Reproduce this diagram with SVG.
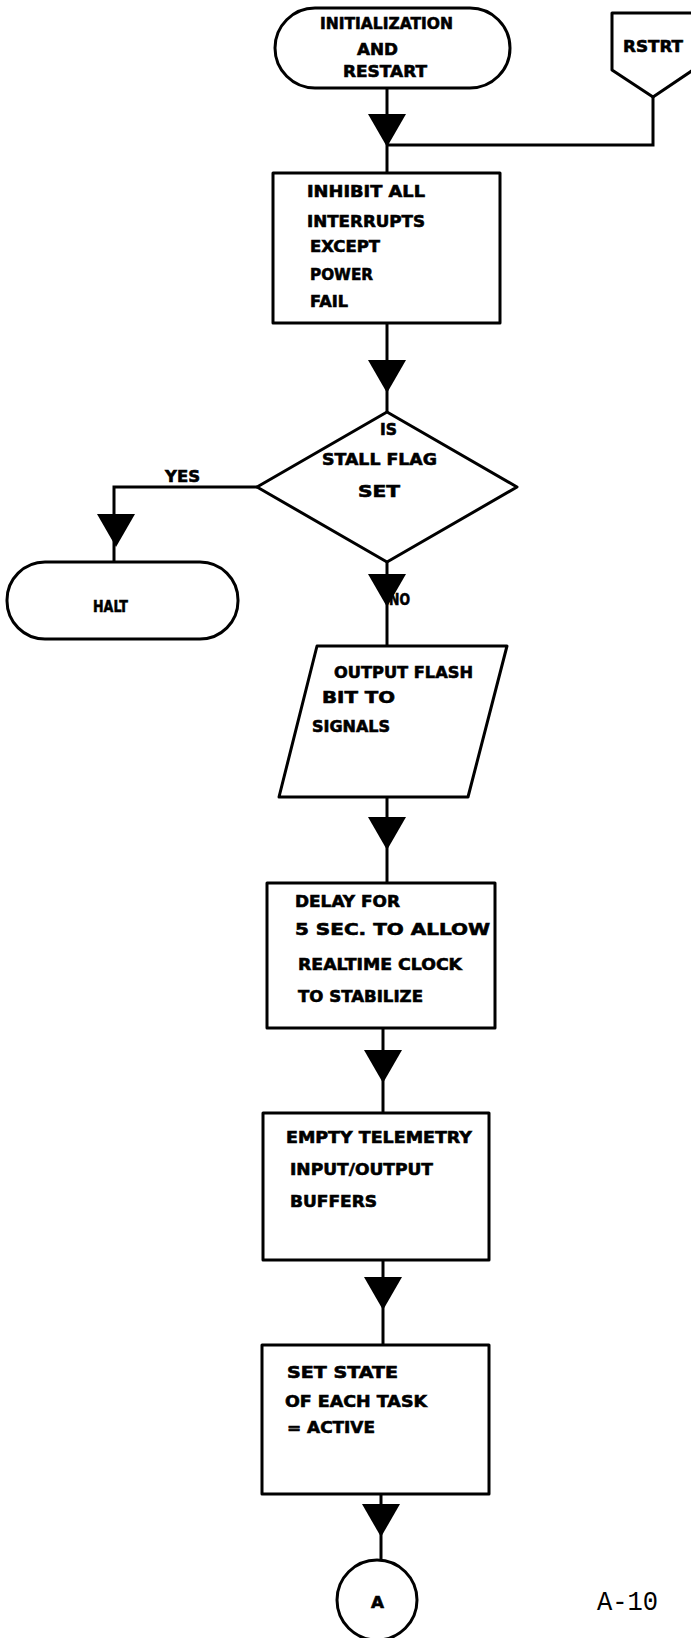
<svg xmlns="http://www.w3.org/2000/svg" width="691" height="1638" viewBox="0 0 691 1638">
  <style>
    .shape { fill: #fff; stroke: #000; stroke-width: 3; stroke-linejoin: round; }
    .wire { fill: none; stroke: #000; stroke-width: 3; stroke-linejoin: miter; }
    .lbl { font-family: "DejaVu Sans", "Liberation Sans", sans-serif; font-weight: bold; font-size: 16px; fill: #000; stroke: #000; stroke-width: 0.6; }
    .page { font-family: "Liberation Mono", "DejaVu Sans Mono", monospace; font-size: 27px; fill: #000; }
  </style>
  <defs>
    <!-- flow-direction arrowhead, apex at origin -->
    <path id="tri" d="M -19 -33 L 19 -33 L 0 0 Z" fill="#000"/>
  </defs>

  <rect width="691" height="1638" fill="#fff"/>

  <g id="connectors">
    <path class="wire" d="M 387 88 V 173"/>
    <path class="wire" d="M 653 97 V 145 H 387"/>
    <path class="wire" d="M 387 323 V 412"/>
    <path class="wire" d="M 257 487 H 114 V 562"/>
    <path class="wire" d="M 387 562 V 646"/>
    <path class="wire" d="M 387 797 V 883"/>
    <path class="wire" d="M 383 1028 V 1113"/>
    <path class="wire" d="M 383 1260 V 1345"/>
    <path class="wire" d="M 381 1494 V 1560"/>
    <use href="#tri" x="387" y="147"/>
    <use href="#tri" x="387" y="393"/>
    <use href="#tri" x="116" y="547"/>
    <use href="#tri" x="387" y="607"/>
    <use href="#tri" x="387" y="850"/>
    <use href="#tri" x="383" y="1083"/>
    <use href="#tri" x="383" y="1310"/>
    <use href="#tri" x="381" y="1537"/>
    <text class="lbl" x="165" y="482" textLength="35" lengthAdjust="spacingAndGlyphs">YES</text>
    <text class="lbl" x="389" y="605" textLength="21" lengthAdjust="spacingAndGlyphs">NO</text>
  </g>

  <g id="start">
    <rect class="shape" x="275" y="8" width="235" height="80" rx="40" ry="40"/>
    <text class="lbl" x="320" y="29" textLength="133" lengthAdjust="spacingAndGlyphs">INITIALIZATION</text>
    <text class="lbl" x="357" y="55" textLength="41" lengthAdjust="spacingAndGlyphs">AND</text>
    <text class="lbl" x="343" y="77" textLength="84" lengthAdjust="spacingAndGlyphs">RESTART</text>
  </g>

  <g id="rstrt">
    <path class="shape" d="M 612 13 H 693 V 70 L 653 97 L 612 70 Z"/>
    <text class="lbl" x="623" y="52" textLength="60" lengthAdjust="spacingAndGlyphs">RSTRT</text>
  </g>

  <g id="inhibit">
    <rect class="shape" x="273" y="173" width="227" height="150"/>
    <text class="lbl" x="307" y="197" textLength="118" lengthAdjust="spacingAndGlyphs">INHIBIT  ALL</text>
    <text class="lbl" x="307" y="227" textLength="118" lengthAdjust="spacingAndGlyphs">INTERRUPTS</text>
    <text class="lbl" x="310" y="252" textLength="70" lengthAdjust="spacingAndGlyphs">EXCEPT</text>
    <text class="lbl" x="310" y="280" textLength="63" lengthAdjust="spacingAndGlyphs">POWER</text>
    <text class="lbl" x="310" y="307" textLength="38" lengthAdjust="spacingAndGlyphs">FAIL</text>
  </g>

  <g id="stall-check">
    <path class="shape" d="M 387 412 L 517 487 L 387 562 L 257 487 Z"/>
    <text class="lbl" x="380" y="435" textLength="17" lengthAdjust="spacingAndGlyphs">IS</text>
    <text class="lbl" x="322" y="465" textLength="115" lengthAdjust="spacingAndGlyphs">STALL  FLAG</text>
    <text class="lbl" x="358" y="497" textLength="42" lengthAdjust="spacingAndGlyphs">SET</text>
  </g>

  <g id="halt">
    <rect class="shape" x="7" y="562" width="231" height="77" rx="38" ry="38"/>
    <text class="lbl" x="93" y="612" textLength="35" lengthAdjust="spacingAndGlyphs">HALT</text>
  </g>

  <g id="flash-output">
    <path class="shape" d="M 317 646 H 507 L 468 797 H 279 Z"/>
    <text class="lbl" x="334" y="678" textLength="139" lengthAdjust="spacingAndGlyphs">OUTPUT FLASH</text>
    <text class="lbl" x="322" y="703" textLength="73" lengthAdjust="spacingAndGlyphs">BIT  TO</text>
    <text class="lbl" x="312" y="732" textLength="78" lengthAdjust="spacingAndGlyphs">SIGNALS</text>
  </g>

  <g id="delay">
    <rect class="shape" x="267" y="883" width="228" height="145"/>
    <text class="lbl" x="295" y="907" textLength="105" lengthAdjust="spacingAndGlyphs">DELAY  FOR</text>
    <text class="lbl" x="295" y="935" textLength="195" lengthAdjust="spacingAndGlyphs">5  SEC. TO  ALLOW</text>
    <text class="lbl" x="298" y="970" textLength="164" lengthAdjust="spacingAndGlyphs">REALTIME  CLOCK</text>
    <text class="lbl" x="298" y="1002" textLength="125" lengthAdjust="spacingAndGlyphs">TO STABILIZE</text>
  </g>

  <g id="telemetry">
    <rect class="shape" x="263" y="1113" width="226" height="147"/>
    <text class="lbl" x="286" y="1143" textLength="186" lengthAdjust="spacingAndGlyphs">EMPTY  TELEMETRY</text>
    <text class="lbl" x="290" y="1175" textLength="143" lengthAdjust="spacingAndGlyphs">INPUT/OUTPUT</text>
    <text class="lbl" x="290" y="1207" textLength="87" lengthAdjust="spacingAndGlyphs">BUFFERS</text>
  </g>

  <g id="task-state">
    <rect class="shape" x="262" y="1345" width="227" height="149"/>
    <text class="lbl" x="287" y="1378" textLength="111" lengthAdjust="spacingAndGlyphs">SET  STATE</text>
    <text class="lbl" x="285" y="1407" textLength="142" lengthAdjust="spacingAndGlyphs">OF EACH TASK</text>
    <text class="lbl" x="287" y="1433" textLength="88" lengthAdjust="spacingAndGlyphs">=  ACTIVE</text>
  </g>

  <g id="connector-a">
    <circle class="shape" cx="377" cy="1600" r="40"/>
    <text class="lbl" x="371" y="1608" textLength="13" lengthAdjust="spacingAndGlyphs">A</text>
  </g>

  <text class="page" x="597" y="1610" textLength="61" lengthAdjust="spacingAndGlyphs">A-10</text>
</svg>
